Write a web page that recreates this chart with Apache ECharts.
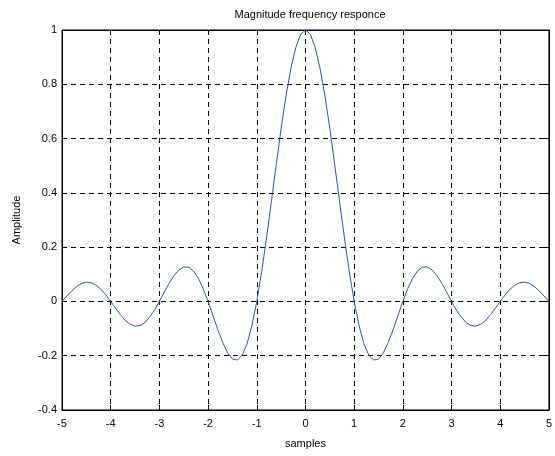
<!DOCTYPE html>
<html><head><meta charset="utf-8">
<script src="https://cdn.jsdelivr.net/npm/echarts@6/dist/echarts.min.js"></script>
<style>html,body{margin:0;padding:0;background:#fff}#c{width:555px;height:456px}</style>
</head><body><div id="c"></div>
<script>
var xs = [-5,-4.9,-4.8,-4.7,-4.6,-4.5,-4.4,-4.3,-4.2,-4.1,-4,-3.9,-3.8,-3.7,-3.6,-3.5,-3.4,-3.3,-3.2,-3.1,-3,-2.9,-2.8,-2.7,-2.6,-2.5,-2.4,-2.3,-2.2,-2.1,-2,-1.9,-1.8,-1.7,-1.6,-1.5,-1.4,-1.3,-1.2,-1.1,-1,-0.9,-0.8,-0.7,-0.6,-0.5,-0.4,-0.3,-0.2,-0.1,0,0.1,0.2,0.3,0.4,0.5,0.6,0.7,0.8,0.9,1,1.1,1.2,1.3,1.4,1.5,1.6,1.7,1.8,1.9,2,2.1,2.2,2.3,2.4,2.5,2.6,2.7,2.8,2.9,3,3.1,3.2,3.3,3.4,3.5,3.6,3.7,3.8,3.9,4,4.1,4.2,4.3,4.4,4.5,4.6,4.7,4.8,4.9,5];
var amplitude = [0,0.020,0.039,0.055,0.066,0.071,0.069,0.060,0.045,0.024,0,-0.025,-0.049,-0.070,-0.084,-0.091,-0.089,-0.078,-0.058,-0.032,0,0.034,0.067,0.095,0.116,0.127,0.126,0.112,0.085,0.047,0,-0.052,-0.104,-0.151,-0.189,-0.212,-0.216,-0.198,-0.156,-0.089,0,0.109,0.234,0.368,0.505,0.637,0.757,0.858,0.935,0.984,1,0.984,0.935,0.858,0.757,0.637,0.505,0.368,0.234,0.109,0,-0.089,-0.156,-0.198,-0.216,-0.212,-0.189,-0.151,-0.104,-0.052,0,0.047,0.085,0.112,0.126,0.127,0.116,0.095,0.067,0.034,0,-0.032,-0.058,-0.078,-0.089,-0.091,-0.084,-0.070,-0.049,-0.025,0,0.024,0.045,0.060,0.069,0.071,0.066,0.055,0.039,0.020,0];
var titleText = 'Magnitude frequency responce';
var xName = 'samples';
var yName = 'Amplitude';

var pts = xs.map(function(x,i){return [x, amplitude[i]];});
var font = 'Liberation Sans, Arial, sans-serif';
var chart = echarts.init(document.getElementById('c'), null, {renderer:'canvas'});
var grid = {left:62, right:6, top:30, bottom:46, show:true, borderColor:'#000', borderWidth:1, backgroundColor:'#fff'};
chart.setOption({
  animation:false,
  title:{text:titleText, left:305, top:4, textAlign:'center', textStyle:{fontFamily:font, fontSize:11, fontWeight:'normal', color:'#000'}},
  grid:grid,
  xAxis:[{
    type:'value', min:-5, max:5, interval:1, position:'bottom',
    name:xName, nameLocation:'middle', nameGap:28, nameTextStyle:{fontFamily:font, fontSize:11, color:'#000'},
    axisLine:{show:true, onZero:false, lineStyle:{color:'#000'}},
    axisTick:{show:true, inside:true, length:5, lineStyle:{color:'#000'}},
    axisLabel:{fontFamily:font, fontSize:11, color:'#000', margin:8},
    splitLine:{show:true, lineStyle:{color:'#000', type:[5,4], width:1}}
  },{
    type:'value', min:-5, max:5, interval:1, position:'top',
    axisLine:{show:true, onZero:false, lineStyle:{color:'#000'}},
    axisTick:{show:true, inside:true, length:5, lineStyle:{color:'#000'}},
    axisLabel:{show:false}, splitLine:{show:false}
  }],
  yAxis:[{
    type:'value', min:-0.4, max:1, interval:0.2, position:'left',
    name:yName, nameLocation:'middle', nameGap:40, nameTextStyle:{fontFamily:font, fontSize:11, color:'#000'},
    axisLine:{show:true, onZero:false, lineStyle:{color:'#000'}},
    axisTick:{show:true, inside:true, length:5, lineStyle:{color:'#000'}},
    axisLabel:{fontFamily:font, fontSize:11, color:'#000', margin:5, formatter:function(v){return String(Math.round(v*10)/10);}},
    splitLine:{show:true, lineStyle:{color:'#000', type:[5,4], width:1}}
  },{
    type:'value', min:-0.4, max:1, interval:0.2, position:'right',
    axisLine:{show:true, onZero:false, lineStyle:{color:'#000'}},
    axisTick:{show:true, inside:true, length:5, lineStyle:{color:'#000'}},
    axisLabel:{show:false}, splitLine:{show:false}
  }],
  series:[{
    type:'line', data:pts, showSymbol:false, symbol:'none', smooth:false,
    lineStyle:{color:'#2f51b3', width:1}, xAxisIndex:0, yAxisIndex:0
  }]
});
</script></body></html>
